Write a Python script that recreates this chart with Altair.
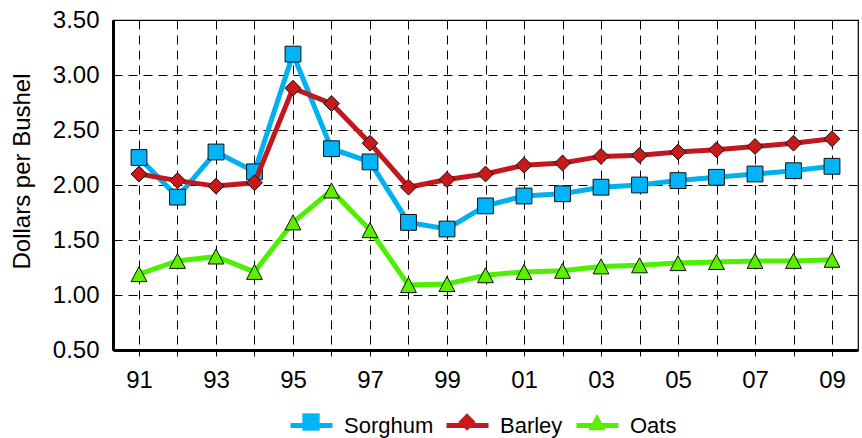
import altair as alt
import pandas as pd

years = ["91", "92", "93", "94", "95", "96", "97", "98", "99", "00",
         "01", "02", "03", "04", "05", "06", "07", "08", "09"]
crops = ["Sorghum", "Barley", "Oats"]
sorghum = [2.25, 1.89, 2.30, 2.12, 3.19, 2.33, 2.21, 1.66, 1.60, 1.81,
           1.90, 1.92, 1.98, 2.00, 2.04, 2.07, 2.10, 2.13, 2.17]
barley = [2.10, 2.04, 1.99, 2.02, 2.88, 2.74, 2.38, 1.98, 2.05, 2.10,
          2.18, 2.20, 2.26, 2.27, 2.30, 2.32, 2.35, 2.38, 2.42]
oats = [1.19, 1.31, 1.35, 1.21, 1.66, 1.95, 1.59, 1.09, 1.10, 1.18,
        1.21, 1.22, 1.26, 1.27, 1.29, 1.30, 1.31, 1.31, 1.32]
y_ticks = [0.5, 1.0, 1.5, 2.0, 2.5, 3.0, 3.5]

line_colors = ["#00B0F0", "#C0181E", "#4CF000"]
marker_colors = ["#00B4FA", "#C81A1A", "#5CF000"]
shapes = ["square", "diamond", "M0,-0.95L1,0.95L-1,0.95Z"]

# legend layout (pixels from the plot's left / top edge)
legend_line_x = [175, 331, 461]
legend_line_y = 382
legend_mark_dx = 12
legend_mark_y = 391

crop_keys = [c + " " for c in crops]

rows = []
for crop, key, vals in zip(crops, crop_keys, [sorghum, barley, oats]):
    for yr, v in zip(years, vals):
        rows.append({"year": yr, "price": v, "crop": crop, "crop2": key})
df = pd.DataFrame(rows)

shown = years[::2]
label_expr = "indexof([" + ",".join("'" + s + "'" for s in shown) + "], datum.label) >= 0 ? datum.label : ''"

x_enc = alt.X(
    "year:O", sort=years,
    scale=alt.Scale(type="point", padding=0.675),
    axis=alt.Axis(title=None, labelAngle=0, labelExpr=label_expr,
                  ticks=True, tickSize=6, tickColor="black", tickWidth=1,
                  labelPadding=12, domainWidth=3, domainColor="black"),
)
y_enc = alt.Y(
    "price:Q",
    scale=alt.Scale(domain=[0.5, 3.5], nice=False, zero=False),
    axis=alt.Axis(values=y_ticks, format=".2f", title="Dollars per Bushel",
                  ticks=False, labelPadding=14, domainWidth=3, domainColor="black",
                  titleX=-79, titleY=151, titleFontSize=24, titleFontWeight="normal"),
)

legend_common = dict(orient="none", direction="horizontal", title=None,
                     labelFontSize=22, labelFont="Liberation Sans",
                     labelColor="black", padding=0)

base = alt.Chart(df)
layers = []
for i, crop in enumerate(crops):
    sub = base.transform_filter(alt.datum.crop == crop)
    leg_line = alt.Legend(symbolType="stroke", symbolStrokeWidth=5, symbolSize=1764,
                          labelOffset=9, legendX=legend_line_x[i],
                          legendY=legend_line_y, **legend_common)
    leg_mark = alt.Legend(symbolStrokeColor="#111111", symbolStrokeWidth=1,
                          symbolSize=300, labelExpr="''", labelOffset=0,
                          legendX=legend_line_x[i] + legend_mark_dx,
                          legendY=legend_mark_y, **legend_common)
    layers.append(sub.mark_line(strokeWidth=5).encode(
        x=x_enc, y=y_enc,
        color=alt.Color("crop:N", scale=alt.Scale(domain=[crop], range=[line_colors[i]]),
                        legend=leg_line)))
    layers.append(sub.mark_point(filled=True, size=250, stroke="#111111", strokeWidth=1,
                                 opacity=1).encode(
        x=x_enc, y=y_enc,
        fill=alt.Fill("crop2:N", scale=alt.Scale(domain=[crop_keys[i]], range=[marker_colors[i]]),
                      legend=leg_mark),
        shape=alt.Shape("crop2:N", scale=alt.Scale(domain=[crop_keys[i]], range=[shapes[i]]),
                        legend=leg_mark)))

chart = alt.layer(*layers).resolve_scale(
    color="independent", fill="independent", shape="independent"
).properties(
    width=745, height=330,
    background="white",
    autosize=alt.AutoSizeParams(type="none"),
    padding={"left": 113, "top": 20, "right": 4, "bottom": 88},
).configure_view(
    stroke="black", strokeWidth=1.2
).configure_axis(
    labelFont="Liberation Sans", labelFontSize=24, labelColor="black",
    titleFont="Liberation Sans", titleColor="black",
    grid=True, gridColor="black", gridDash=[9, 6], gridWidth=1, gridOpacity=1,
)

chart.save("out.html", embed_options={"renderer": "svg", "actions": False})
